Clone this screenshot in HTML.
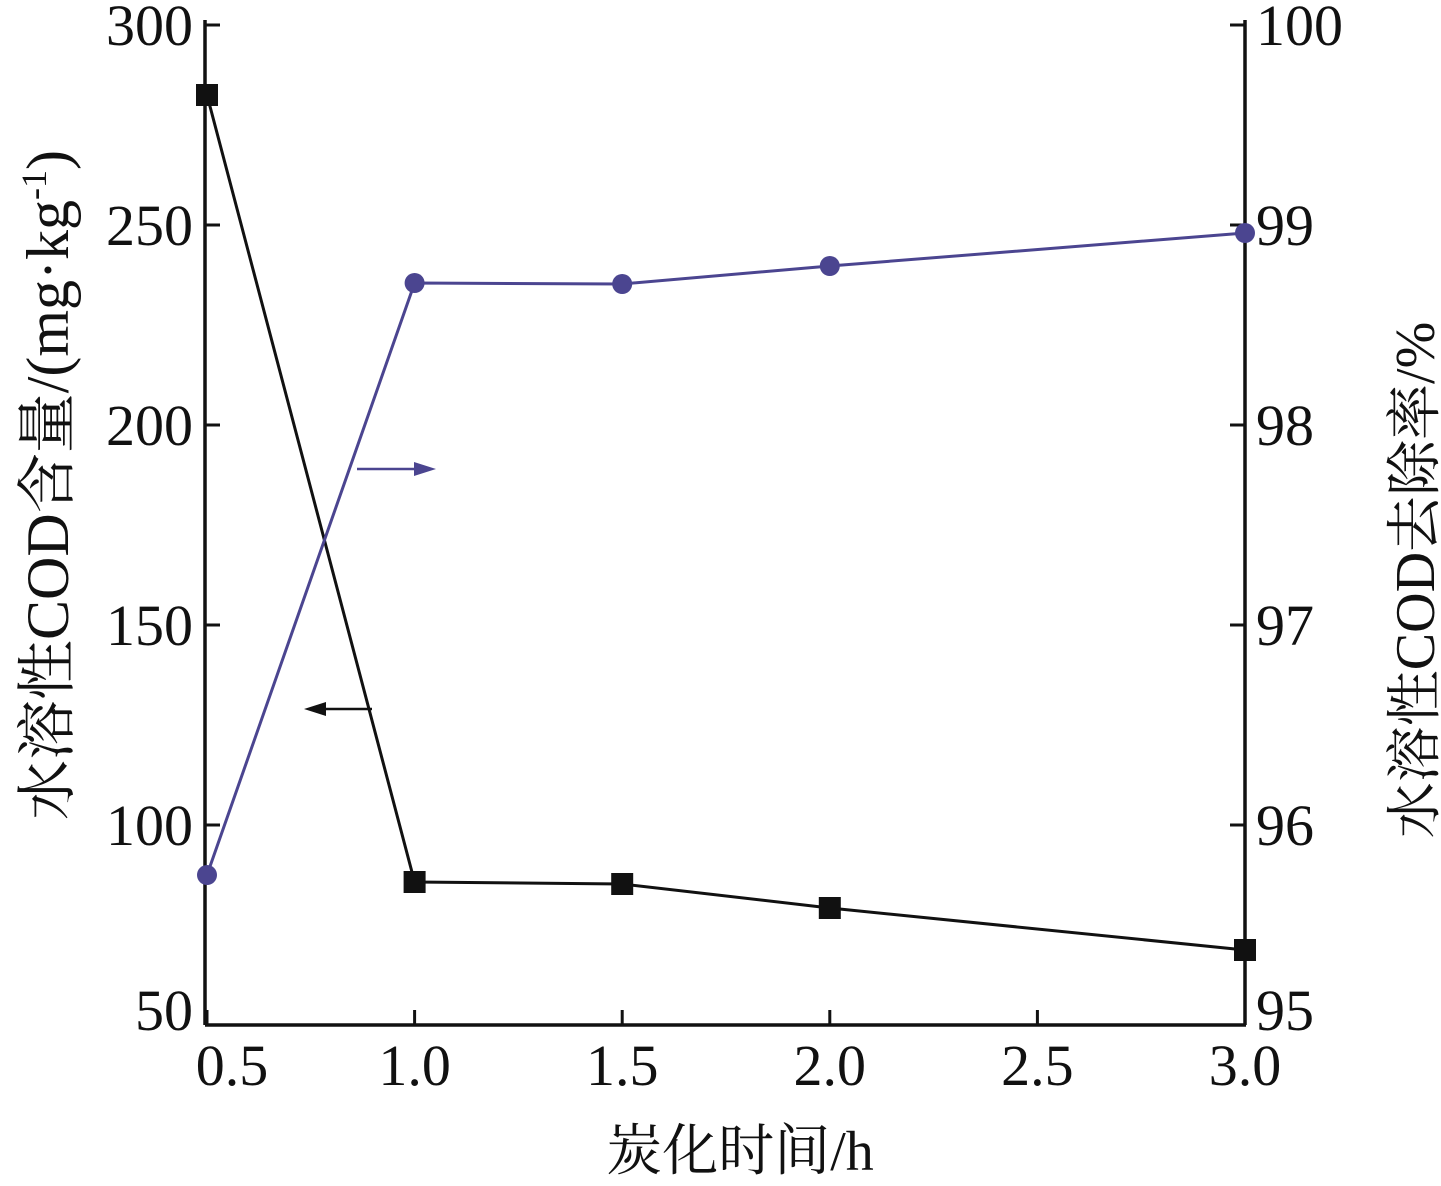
<!DOCTYPE html>
<html><head><meta charset="utf-8"><style>
body{margin:0;background:#fff}
svg text{font-family:"Liberation Serif","Noto Serif CJK SC",serif;fill:#111}
</style></head><body>
<svg width="1441" height="1181" viewBox="0 0 1441 1181" xmlns="http://www.w3.org/2000/svg">
<g id="axes"></g>
<g id="marks"></g>
<text x="740" y="1170" font-size="56" text-anchor="middle">炭化时间/h</text>
<text transform="translate(68,485) rotate(-90)" font-size="60" text-anchor="middle">水溶性COD含量/(mg·kg<tspan font-size="36" dy="-22">-1</tspan><tspan dy="22">)</tspan></text>
<text transform="translate(1434,580) rotate(-90)" font-size="56" text-anchor="middle">水溶性COD去除率/%</text>
<line x1="357" y1="469" x2="420" y2="469" stroke="#4b4590" stroke-width="2.5"/>
<polygon points="436,469 414,462 414,476" fill="#4b4590"/>
<line x1="372" y1="709" x2="318" y2="709" stroke="#111" stroke-width="2.5"/>
<polygon points="304,709 326,702 326,716" fill="#111"/>
</svg>
<script>
const xVals=[0.5,1.0,1.5,2.0,3.0];
const codContent=[282.5,85.75,85.25,79.25,68.75];
const removalRate=[95.75,98.71,98.705,98.795,98.96];
const xTicks=[0.5,1.0,1.5,2.0,2.5,3.0];
const xTickLabels=["0.5","1.0","1.5","2.0","2.5","3.0"];
const leftTicks=[50,100,150,200,250,300];
const rightTicks=[95,96,97,98,99,100];
const X0=205,X1=1245,Y0=1025,Y1=25;
const xs=v=>207+(v-0.5)*(1245-207)/2.5;
const yl=v=>Y0-(v-50)*(Y0-Y1)/250;
const yr=v=>Y0-(v-95)*(Y0-Y1)/5;
const NS="http://www.w3.org/2000/svg";
function mk(p,t,a){const e=document.createElementNS(NS,t);for(const k in a)e.setAttribute(k,a[k]);p.appendChild(e);return e;}
const ax=document.getElementById('axes'),mg=document.getElementById('marks');
let l;
l=mk(ax,'line',{x1:X0,y1:Y1-5,x2:X0,y2:Y0,stroke:'#111','stroke-width':3.5});

l=mk(ax,'line',{x1:X1,y1:Y1-5,x2:X1,y2:Y0,stroke:'#111','stroke-width':3.5});

l=mk(ax,'line',{x1:X0,y1:Y0,x2:X1+1,y2:Y0,stroke:'#111','stroke-width':3.5});

xTicks.forEach((v,i)=>{
 const t=mk(ax,'line',{x1:xs(v),y1:Y0,x2:xs(v),y2:Y0-15,stroke:'#111','stroke-width':3});
 
 const tx=mk(ax,'text',{x:i==0?xs(v)+25:xs(v),y:1085,'font-size':58,'text-anchor':'middle'});
 tx.textContent=xTickLabels[i];
 
});
leftTicks.forEach(v=>{
 const t=mk(ax,'line',{x1:X0,y1:yl(v),x2:X0+15,y2:yl(v),stroke:'#111','stroke-width':3});
 
 const tx=mk(ax,'text',{x:193,y:v==50?yl(v)+5:yl(v)+20,'font-size':58,'text-anchor':'end'});
 tx.textContent=v;
 
});
rightTicks.forEach(v=>{
 const t=mk(ax,'line',{x1:X1,y1:yr(v),x2:X1-15,y2:yr(v),stroke:'#111','stroke-width':3});
 
 const tx=mk(ax,'text',{x:1256,y:v==95?yr(v)+5:yr(v)+20,'font-size':58});
 tx.textContent=v;
 
});
l=mk(mg,'polyline',{points:xVals.map((x,i)=>xs(x)+','+yl(codContent[i])).join(' '),fill:'none',stroke:'#111','stroke-width':3});

l=mk(mg,'polyline',{points:xVals.map((x,i)=>xs(x)+','+yr(removalRate[i])).join(' '),fill:'none',stroke:'#4b4590','stroke-width':3});

xVals.forEach((x,i)=>{
 const s=mk(mg,'rect',{x:xs(x)-11,y:yl(codContent[i])-11,width:22,height:22,fill:'#111'});
 
 const c=mk(mg,'circle',{cx:xs(x),cy:yr(removalRate[i]),r:10,fill:'#4b4590'});
 
});
</script>
</body></html>
